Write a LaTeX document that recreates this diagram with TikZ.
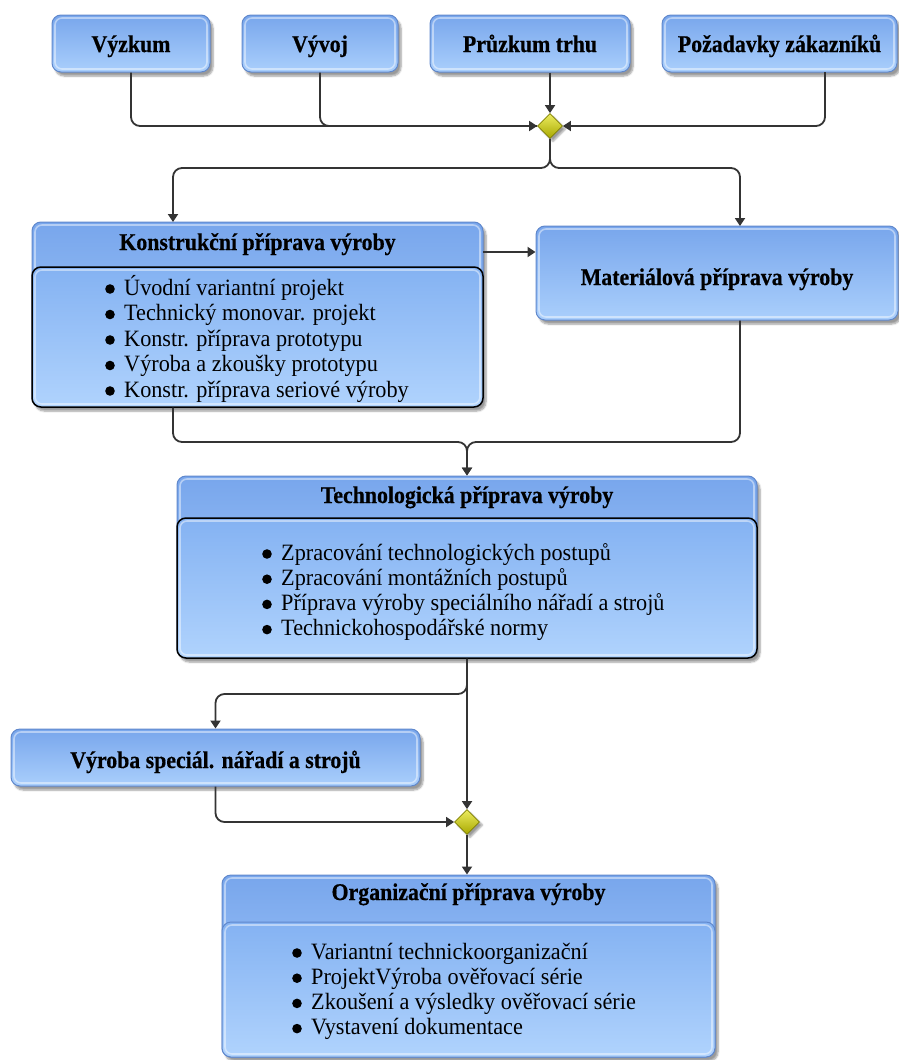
\documentclass[tikz,border=0pt]{standalone}
\usepackage{fontspec}
\setmainfont{Liberation Serif}
\newfontfamily\headfam{Liberation Serif}[FakeStretch=0.91, BoldFeatures={FakeBold=0.5}]
\newfontfamily\listfam{Liberation Serif}[FakeStretch=0.95]
\usetikzlibrary{arrows.meta,shapes.geometric,shadows.blur,calc}

\definecolor{bxTop}{RGB}{120,166,236}
\definecolor{bxBot}{RGB}{170,207,252}
\definecolor{bxEdge}{RGB}{96,136,204}
\definecolor{bdTop}{RGB}{132,178,242}
\definecolor{bdBot}{RGB}{176,211,253}
\definecolor{lineC}{RGB}{52,52,52}
\definecolor{dmTop}{RGB}{236,236,96}
\definecolor{dmBot}{RGB}{168,168,0}
\definecolor{dmEdge}{RGB}{128,128,0}

\newcommand\boxhead{\headfam\fontsize{24}{28}\selectfont\bfseries}
\newcommand\boxlist{\listfam\fontsize{23.4}{25.2}\selectfont}
\newcommand\bul[1]{\makebox[19pt][l]{\tikz[baseline=0pt]\fill (4.8pt,6pt) circle[radius=4.8pt];}#1}

\tikzset{
  glow/.style={path picture={
      \draw[white, opacity=.45, line width=1.6pt, rounded corners=7pt]
        ([shift={(3pt,-3pt)}]path picture bounding box.north west) rectangle
        ([shift={(-3pt,3pt)}]path picture bounding box.south east);}},
  box/.style={rectangle, rounded corners=9pt, top color=bxTop, bottom color=bxBot,
    draw=bxEdge, line width=1pt, inner sep=0pt, glow,
    blur shadow={shadow xshift=3pt, shadow yshift=-4pt, shadow blur steps=6},
    font=\boxhead},
  body/.style={rectangle, rounded corners=9pt, top color=bdTop, bottom color=bdBot,
    draw=black, line width=1.5pt, inner sep=0pt, glow},
  bl/.style={text height=#1, text depth=0pt},
  head/.style={inner sep=0pt, font=\boxhead},
  items/.style={inner sep=0pt, font=\boxlist},
  gate/.style={diamond, minimum width=25pt, minimum height=25pt, inner sep=0pt,
    top color=dmTop, bottom color=dmBot, draw=dmEdge, line width=0.8pt,
    blur shadow={shadow xshift=3pt, shadow yshift=-3pt, shadow blur steps=5}},
  conn/.style={draw=lineC, line width=1.8pt, rounded corners=9pt},
  arr/.style={-{Triangle[length=8pt,width=10pt]}}
}

\begin{document}
\begin{tikzpicture}[x=1pt, y=-1pt]
\useasboundingbox (0,0) rectangle (899,1060);

% sources
\node[box, minimum width=158pt, minimum height=57pt, bl=17pt] (vyzkum)  at (131,43.5)   {Výzkum};
\node[box, minimum width=156pt, minimum height=57pt, bl=17pt] (vyvoj)   at (320,43.5)   {Vývoj};
\node[box, minimum width=200pt, minimum height=57pt, bl=17pt] (pruzkum) at (530,43.5)   {Průzkum trhu};
\node[box, minimum width=235pt, minimum height=57pt, bl=17pt] (pozad)   at (779.5,43.5) {Požadavky zákazníků};

\node[gate] (dia1) at (550,126) {};

% design preparation
\node[box, minimum width=451pt, minimum height=185pt] (konstr) at (257.5,314.5) {};
\node[body, minimum width=451pt, minimum height=140pt] (konstrB) at (257.5,337) {};
\node[head, anchor=base] (konstrH) at (257.5,250) {Konstrukční příprava výroby};
\node[items, anchor=base west] (konstrL) at (105,295) {\fontsize{23.4}{25.5}\selectfont
  \begin{tabular}[t]{@{}l@{}}
  \bul{Úvodní variantní projekt}\\
  \bul{Technický monovar. projekt}\\
  \bul{Konstr. příprava prototypu}\\
  \bul{Výroba a zkoušky prototypu}\\
  \bul{Konstr. příprava seriové výroby}
  \end{tabular}};

% material preparation
\node[box, minimum width=362pt, minimum height=94pt, bl=24pt] (mat) at (717,273) {Materiálová příprava výroby};

% technological preparation
\node[box, minimum width=580pt, minimum height=182pt] (techn) at (467,567) {};
\node[body, minimum width=580pt, minimum height=140pt] (technB) at (467,588) {};
\node[head, anchor=base] (technH) at (467,503) {Technologická příprava výroby};
\node[items, anchor=base west] (technL) at (262,560) {%
  \begin{tabular}[t]{@{}l@{}}
  \bul{Zpracování technologických postupů}\\
  \bul{Zpracování montážních postupů}\\
  \bul{Příprava výroby speciálního nářadí a strojů}\\
  \bul{Technickohospodářské normy}
  \end{tabular}};

% tooling
\node[box, minimum width=409pt, minimum height=57pt, bl=21pt] (vyroba) at (215.5,757.5) {Výroba speciál. nářadí a strojů};

\node[gate] (dia2) at (467,822) {};

% organisational preparation
\node[box, minimum width=493pt, minimum height=182pt] (organ) at (468.5,966) {};
\node[body, draw=bxEdge, line width=1pt, minimum width=493pt, minimum height=135pt] (organB) at (468.5,989.5) {};
\node[head, anchor=base] (organH) at (468.5,900) {Organizační příprava výroby};
\node[items, anchor=base west] (organL) at (292,959) {%
  \begin{tabular}[t]{@{}l@{}}
  \bul{Variantní technickoorganizační}\\
  \bul{ProjektVýroba ověřovací série}\\
  \bul{Zkoušení a výsledky ověřovací série}\\
  \bul{Vystavení dokumentace}
  \end{tabular}};

% attachment points
\coordinate (pzOut)  at (825,72);
\coordinate (split1) at (550,168);
\coordinate (kIn)    at (173,222);
\coordinate (mIn)    at (740,226);
\coordinate (kOut)   at (483,252);
\coordinate (merge1) at (467,442);
\coordinate (split2) at (467,694);

% connectors
\draw[conn, arr] (vyzkum.south) |- (dia1.west);
\draw[conn]      (vyvoj.south) |- (dia1.west);
\draw[conn, arr] (pruzkum.south -| dia1) -- (dia1.north);
\draw[conn, arr] (pzOut) |- (dia1.east);

\draw[conn, arr] (dia1.south) -- (split1) -| (kIn);
\draw[conn, arr] (dia1.south) -- (split1) -| (mIn);

\draw[conn, arr] (kOut) -- (kOut -| mat.west);

\draw[conn, arr] (kIn |- konstr.south) |- (merge1) -- (techn.north);
\draw[conn, arr] (mIn |- mat.south) |- (merge1) -- (techn.north);

\draw[conn, arr] (techn.south) -- (split2) -| (vyroba.north);
\draw[conn, arr] (techn.south) -- (dia2.north);
\draw[conn, arr] (vyroba.south) |- (dia2.west);
\draw[conn, arr] (dia2.south) -- (dia2.south |- organ.north);
\end{tikzpicture}
\end{document}
